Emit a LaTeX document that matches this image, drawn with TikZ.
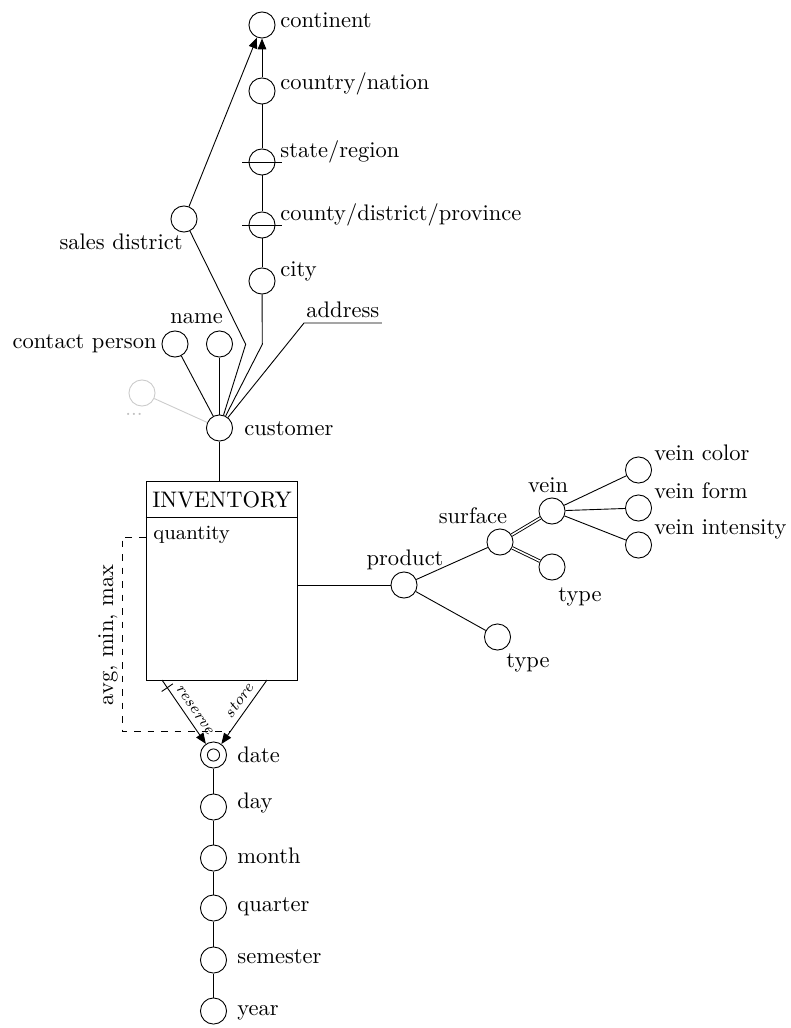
\documentclass[tikz,border=0pt]{standalone}
\usetikzlibrary{arrows.meta,calc}
\begin{document}
\begin{tikzpicture}[x=0.4444pt,y=-0.4444pt,
  ent/.style={circle,draw,minimum size=11.6pt,inner sep=0pt},
  lbl/.style={inner sep=0pt},
  arr/.style={-{Triangle[length=4.8pt,width=3.8pt]}},
  dbl/.style={double,double distance=0.7pt},
  rel/.style={font=\scriptsize\itshape,inner sep=2.5pt},
  tickmark/.style={draw,inner sep=0pt,minimum width=0pt,minimum height=6pt},
  ghost/.style={gray!40}
]
\useasboundingbox (0,0) rectangle (790,1028);

% geography hierarchy
\node[ent] (continent) at (262,25) {};
\node[ent] (country) at (262,91) {};
\node[ent] (state) at (262,162) {};
\node[ent] (county) at (262,225) {};
\node[ent] (city) at (262,281) {};
\node[ent] (sales) at (184,219) {};
\node[lbl,anchor=base west] (lcontinent) at (280,28) {continent};
\node[lbl,anchor=base west] (lcountry) at (280,90) {country/nation};
\node[lbl,anchor=base west] (lstate) at (280,158) {state/region};
\node[lbl,anchor=base west] (lcounty) at (280,221) {county/district/province};
\node[lbl,anchor=base west] (lcity) at (280,277) {city};
\node[lbl,anchor=base east] (lsales) at (183,250) {sales district};
\draw ($(state.center)+(-20,0)$) -- ($(state.center)+(20,0)$);
\draw ($(county.center)+(-20,0)$) -- ($(county.center)+(20,0)$);

\draw[arr] (country) -- (continent);
\draw[arr] (sales) -- (continent);
\draw (state) -- (country);
\draw (county) -- (state);
\draw (city) -- (county);

% customer
\node[ent] (customer) at (219.5,428) {};
\node[lbl,anchor=base west] (lcustomer) at (244,435) {customer};
\node[ent] (contact) at (175,344) {};
\node[lbl,anchor=base east] (lcontact) at (157,348.5) {contact person};
\node[ent] (name) at (219.5,344) {};
\node[lbl,anchor=base] (lname) at (196.5,323) {name};
\node[ent,draw=gray!40] (grey) at (142,393) {};
\node[lbl,anchor=base,text=gray!50,font=\small] (lgrey) at (134,415) {...};
\node[inner xsep=0.9pt,inner ysep=2.2pt,anchor=south west] (addr) at (304,323) {address};
\coordinate (bs) at (245.7,344.3);
\coordinate (bc) at (262.3,344.3);
\draw (customer) -- (bs) -- (sales);
\draw (customer) -- (bc) -- (city);
\draw (customer) -- (contact);
\draw (customer) -- (name);
\draw (customer) -- (addr.south west) -- (addr.south east);
\draw[ghost] (customer) -- (grey);

% fact
\node[draw,inner sep=0pt,minimum width=67.33pt,minimum height=88.44pt,anchor=north west] (inv) at (145.5,481) {};
\coordinate (hdr) at (145.5,517);
\draw (hdr) -- (hdr -| inv.east);
\node[lbl,anchor=base] (invt) at (222,507) {INVENTORY};
\node[lbl,anchor=base west,font=\small] (qty) at (153,539.5) {quantity};
\draw (customer) -- (customer |- inv.north);

% date hierarchy
\node[ent] (date) at (213.5,755) {};
\node[circle,draw,minimum size=5.4pt,inner sep=0pt] (dateinner) at (date.center) {};
\node[ent] (day) at (213.5,807) {};
\node[ent] (month) at (213.5,858) {};
\node[ent] (quarter) at (213.5,908) {};
\node[ent] (semester) at (213.5,960) {};
\node[ent] (year) at (213.5,1011) {};
\node[lbl,anchor=base west] (ldate) at (237,762) {date};
\node[lbl,anchor=base west] (lday) at (237,808) {day};
\node[lbl,anchor=base west] (lmonth) at (237,863) {month};
\node[lbl,anchor=base west] (lquarter) at (237,911) {quarter};
\node[lbl,anchor=base west] (lsemester) at (237,963) {semester};
\node[lbl,anchor=base west] (lyear) at (237,1015) {year};
\draw (date) -- (day);
\draw (day) -- (month);
\draw (month) -- (quarter);
\draw (quarter) -- (semester);
\draw (semester) -- (year);

\coordinate (rs) at (162,680);
\coordinate (ss) at (267,680);
\draw[arr] (rs) -- node[rel,sloped,above,pos=0.56] (lres) {reserve} node[tickmark,sloped,pos=0.12] (rtick) {} (date);
\draw[arr] (ss) -- node[rel,sloped,above,pos=0.42] (lstore) {store} (date);
\coordinate (q0) at (145.5,537);
\coordinate (dashend) at (231,731);
\draw[dashed] (q0) -- ++(-23.5,0) |- (dashend);
\node[lbl,rotate=90] (agg) at (108,635) {avg, min, max};

% product hierarchy
\node[ent] (product) at (404,585) {};
\node[ent] (surface) at (500,542) {};
\node[ent] (vein) at (552,511) {};
\node[ent] (stype) at (552,567) {};
\node[ent] (ptype) at (497.5,637) {};
\node[ent] (vcolor) at (638.5,470) {};
\node[ent] (vform) at (638.5,508) {};
\node[ent] (vint) at (638.5,545) {};
\node[lbl,anchor=base] (lproduct) at (405,565) {product};
\node[lbl,anchor=base] (lsurface) at (473,523) {surface};
\node[lbl,anchor=base] (lvein) at (548,492) {vein};
\node[lbl,anchor=base] (lstype) at (580,601) {type};
\node[lbl,anchor=base] (lptype) at (528,667) {type};
\node[lbl,anchor=base west] (lvcolor) at (654,460) {vein color};
\node[lbl,anchor=base west] (lvform) at (654,498) {vein form};
\node[lbl,anchor=base west] (lvint) at (654,534) {vein intensity};
\draw (inv.east |- product) -- (product);
\draw (product) -- (surface);
\draw (product) -- (ptype);
\draw[dbl] (surface) -- (vein);
\draw[dbl] (surface) -- (stype);
\draw (vein) -- (vcolor);
\draw (vein) -- (vform);
\draw (vein) -- (vint);
\end{tikzpicture}
\end{document}
